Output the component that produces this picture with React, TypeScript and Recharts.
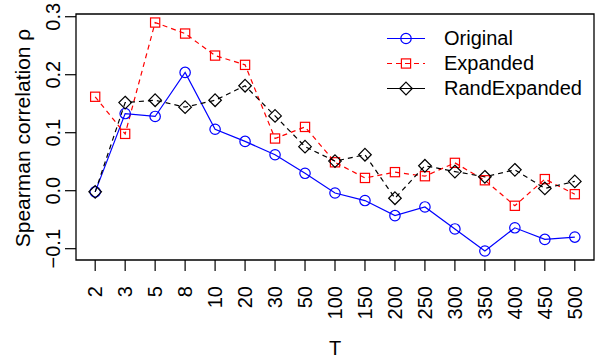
import React from 'react';
import { LineChart, Line, XAxis, YAxis, ReferenceArea } from 'recharts';

const T_LABELS = ['2', '3', '5', '8', '10', '20', '30', '50', '100', '150', '200', '250', '300', '350', '400', '450', '500'];
const ORIGINAL = [-0.002, 0.133, 0.128, 0.204, 0.106, 0.085, 0.062, 0.03, -0.004, -0.017, -0.043, -0.028, -0.066, -0.104, -0.064, -0.084, -0.08];
const EXPANDED = [0.162, 0.098, 0.29, 0.271, 0.233, 0.217, 0.09, 0.11, 0.049, 0.022, 0.032, 0.025, 0.048, 0.018, -0.026, 0.02, -0.006];
const RAND_EXPANDED = [-0.002, 0.152, 0.156, 0.144, 0.156, 0.181, 0.129, 0.076, 0.051, 0.062, -0.013, 0.043, 0.033, 0.024, 0.036, 0.004, 0.016];
const Y_TICKS = [-0.1, 0, 0.1, 0.2, 0.3];

const X_DOMAIN: [number, number] = [0.36, 17.64];
const Y_DOMAIN: [number, number] = [-0.1195, 0.3047];

const FONT = '"Liberation Sans", Arial, Helvetica, sans-serif';
const BLUE = '#0000ff';
const RED = '#ff0000';
const BLACK = '#000000';
const LW = 1.2;

const data = T_LABELS.map((t, i) => ({
  idx: i + 1,
  t,
  original: ORIGINAL[i],
  expanded: EXPANDED[i],
  randExpanded: RAND_EXPANDED[i],
}));

type Shape = 'circle' | 'square' | 'diamond';

function Marker({ cx, cy, shape, color }: { cx: number; cy: number; shape: Shape; color: string }) {
  if (shape === 'circle') {
    return <circle cx={cx} cy={cy} r={5.2} fill="none" stroke={color} strokeWidth={LW} />;
  }
  if (shape === 'square') {
    return <rect x={cx - 4.6} y={cy - 4.6} width={9.2} height={9.2} fill="none" stroke={color} strokeWidth={LW} />;
  }
  const d = 6.3;
  return (
    <polygon
      points={`${cx},${cy - d} ${cx + d},${cy} ${cx},${cy + d} ${cx - d},${cy}`}
      fill="none"
      stroke={color}
      strokeWidth={LW}
    />
  );
}

const dotFor = (shape: Shape, color: string) => (props: any) => {
  const { cx, cy, index } = props;
  if (cx == null || cy == null) return <g key={`d-${shape}-${index}`} />;
  return <Marker key={`d-${shape}-${index}`} cx={cx} cy={cy} shape={shape} color={color} />;
};

const XTick = (props: any) => {
  const { x, y, payload } = props;
  const label = T_LABELS[payload.value - 1] ?? '';
  const bx = x + 7;
  const by = y + 15;
  return (
    <text
      x={bx}
      y={by}
      transform={`rotate(-90 ${bx} ${by})`}
      textAnchor="end"
      fontSize={20}
      fontFamily={FONT}
      fill="#000"
    >
      {label}
    </text>
  );
};

const YTick = (props: any) => {
  const { x, y, payload } = props;
  const v: number = payload.value;
  const label = (v < 0 ? '\u2212' : '') + Math.abs(v).toFixed(1);
  const bx = x - 5;
  return (
    <text
      x={bx}
      y={y}
      transform={`rotate(-90 ${bx} ${y})`}
      textAnchor="middle"
      fontSize={20}
      fontFamily={FONT}
      fill="#000"
    >
      {label}
    </text>
  );
};

const legendRows: { name: string; color: string; shape: Shape; dash?: string }[] = [
  { name: 'Original', color: BLUE, shape: 'circle' },
  { name: 'Expanded', color: RED, shape: 'square', dash: '5 4' },
  { name: 'RandExpanded', color: BLACK, shape: 'diamond' },
];

function PlotLegend() {
  return (
    <div style={{ position: 'absolute', left: 386, top: 26, fontFamily: FONT, fontSize: 20 }}>
      {legendRows.map((r) => (
        <div key={r.name} style={{ display: 'flex', alignItems: 'center', height: 25 }}>
          <svg width={58} height={25} style={{ display: 'block' }}>
            <line x1={1} y1={12.5} x2={39} y2={12.5} stroke={r.color} strokeWidth={LW} strokeDasharray={r.dash} />
            <Marker cx={20} cy={12.5} shape={r.shape} color={r.color} />
          </svg>
          <span style={{ lineHeight: '25px', color: '#000' }}>{r.name}</span>
        </div>
      ))}
    </div>
  );
}

export default function App() {
  return (
    <div style={{ position: 'absolute', left: 0, top: 0, width: 596, height: 360, background: '#fff' }}>
      <style>{'body{margin:0}'}</style>
      <LineChart width={596} height={360} data={data} margin={{ top: 14, right: 2, bottom: 0, left: 0 }}>
        <XAxis
          dataKey="idx"
          type="number"
          domain={X_DOMAIN}
          ticks={T_LABELS.map((_, i) => i + 1)}
          allowDataOverflow
          axisLine={false}
          tickLine={{ stroke: '#000', strokeWidth: LW }}
          tickSize={11}
          tickMargin={0}
          height={100}
          interval={0}
          tick={<XTick />}
        />
        <YAxis
          type="number"
          domain={Y_DOMAIN}
          ticks={Y_TICKS}
          allowDataOverflow
          axisLine={false}
          tickLine={{ stroke: '#000', strokeWidth: LW }}
          tickSize={11}
          tickMargin={0}
          width={76}
          interval={0}
          tick={<YTick />}
        />
        <ReferenceArea
          x1={X_DOMAIN[0]}
          x2={X_DOMAIN[1]}
          y1={Y_DOMAIN[0]}
          y2={Y_DOMAIN[1]}
          fill="none"
          fillOpacity={0}
          stroke="#000"
          strokeWidth={1.3}
          ifOverflow="visible"
        />
        <Line
          dataKey="original"
          type="linear"
          stroke={BLUE}
          strokeWidth={LW}
          dot={dotFor('circle', BLUE)}
          activeDot={false}
          isAnimationActive={false}
        />
        <Line
          dataKey="expanded"
          type="linear"
          stroke={RED}
          strokeWidth={LW}
          strokeDasharray="5 4"
          dot={dotFor('square', RED)}
          activeDot={false}
          isAnimationActive={false}
        />
        <Line
          dataKey="randExpanded"
          type="linear"
          stroke={BLACK}
          strokeWidth={LW}
          strokeDasharray="5 4"
          dot={dotFor('diamond', BLACK)}
          activeDot={false}
          isAnimationActive={false}
        />
        <text
          x={30}
          y={138}
          transform="rotate(-90 30 138)"
          textAnchor="middle"
          fontSize={21}
          fontFamily={FONT}
          fill="#000"
        >
          Spearman correlation ρ
        </text>
        <text x={335} y={355} textAnchor="middle" fontSize={20} fontFamily={FONT} fill="#000">
          T
        </text>
      </LineChart>
      <PlotLegend />
    </div>
  );
}
